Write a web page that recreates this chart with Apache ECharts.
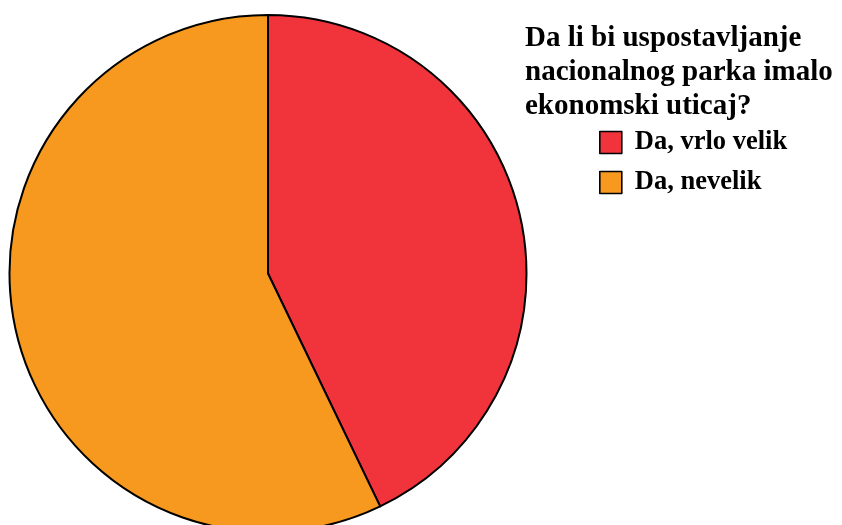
<!DOCTYPE html>
<html>
<head>
<meta charset="utf-8">
<script src="https://cdn.jsdelivr.net/npm/echarts@6/dist/echarts.min.js"></script>
<style>html,body{margin:0;padding:0;background:#fff}#c{width:842px;height:525px}</style>
</head>
<body>
<div id="c"></div>
<script>
const categories = ['Da, vrlo velik', 'Da, nevelik'];
const values = [3, 4];
const colors = ['#F1343B', '#F7991F'];
const titleText = 'Da li bi uspostavljanje\nnacionalnog parka imalo\nekonomski uticaj?';

const chart = echarts.init(document.getElementById('c'), null, {renderer: 'canvas'});
chart.setOption({
  animation: false,
  title: {
    text: titleText,
    left: 525,
    top: 22,
    padding: 0,
    textStyle: {fontFamily: 'Liberation Serif', fontWeight: 'bold', fontSize: 29, lineHeight: 34, color: '#000'}
  },
  legend: {
    orient: 'vertical',
    left: 599,
    top: 129,
    padding: 0,
    itemWidth: 22,
    itemHeight: 22,
    itemGap: 13,
    icon: 'rect',
    itemStyle: {borderColor: '#000', borderWidth: 1.6},
    textStyle: {fontFamily: 'Liberation Serif', fontWeight: 'bold', fontSize: 26.5, lineHeight: 22, color: '#000', padding: [0, 0, 0, 8]},
    data: categories
  },
  series: [{
    type: 'pie',
    center: [268, 273.5],
    radius: 258.5,
    startAngle: 90,
    clockwise: true,
    label: {show: false},
    labelLine: {show: false},
    emphasis: {disabled: true},
    itemStyle: {borderColor: '#000', borderWidth: 2},
    data: categories.map((c, i) => ({name: c, value: values[i], itemStyle: {color: colors[i]}}))
  }]
});
</script>
</body>
</html>
